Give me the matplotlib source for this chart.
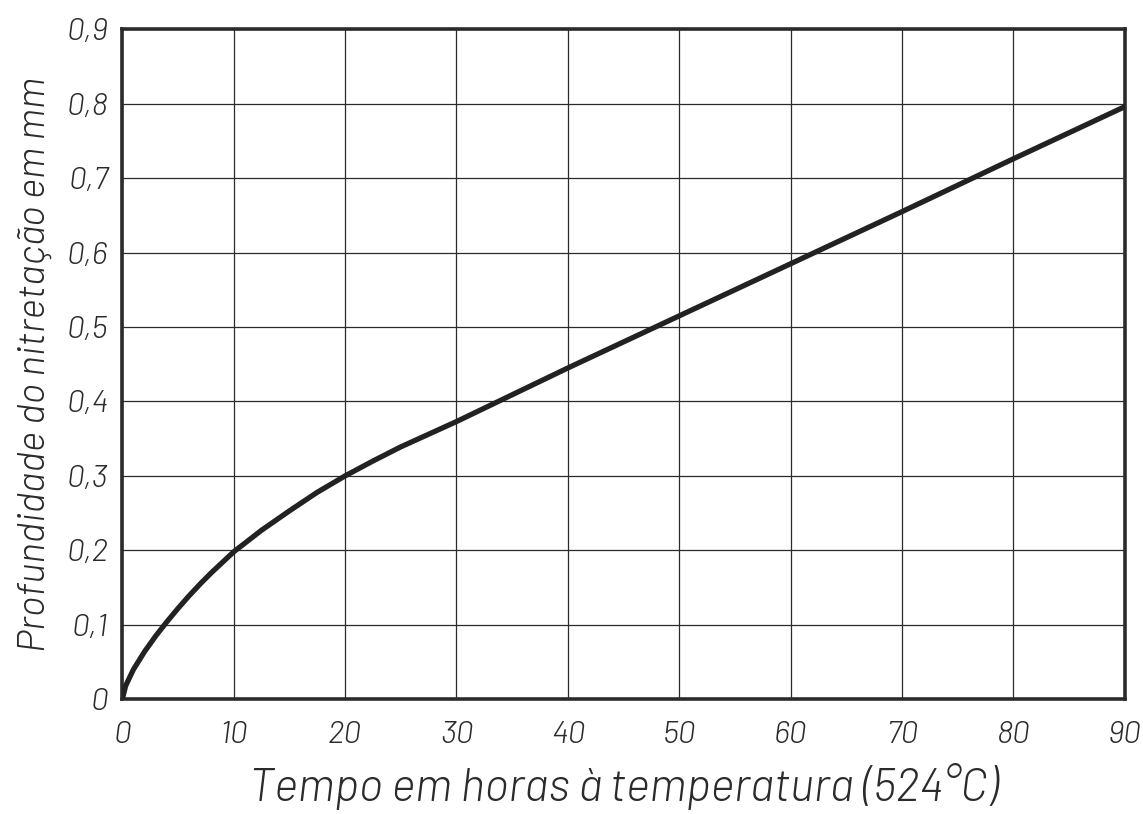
import matplotlib
matplotlib.use("Agg")
import matplotlib.pyplot as plt

# Data
tempo_h = [0, 0.3, 1, 2, 3, 4, 5, 6, 7, 8, 10, 12.5, 15, 17.5, 20, 22.5, 25, 27.5, 30,
           35, 40, 50, 60, 70, 80, 90]
profundidade_mm = [0, 0.018, 0.04, 0.064, 0.085, 0.104, 0.122, 0.139, 0.155, 0.17, 0.198,
                   0.227, 0.253, 0.278, 0.300, 0.320, 0.339, 0.356, 0.373,
                   0.409, 0.445, 0.515, 0.585, 0.655, 0.726, 0.796]
x_ticks = [0, 10, 20, 30, 40, 50, 60, 70, 80, 90]
y_ticks = [0, 0.1, 0.2, 0.3, 0.4, 0.5, 0.6, 0.7, 0.8, 0.9]
y_tick_labels = ["0", "0,1", "0,2", "0,3", "0,4", "0,5", "0,6", "0,7", "0,8", "0,9"]
x_label = "Tempo em horas à temperatura (524°C)"
y_label = "Profundidade do nitretação em mm"

fam = ["Barlow", "Barlow Semi Condensed", "DejaVu Sans"]

ink = "#2b2b2b"
fig = plt.figure(figsize=(11.43, 8.14), dpi=100)
ax = fig.add_axes([0.107, 0.141, 0.877, 0.823])
ax.set_xlim(0, 90)
ax.set_ylim(0, 0.9)
ax.set_xticks(x_ticks)
ax.set_yticks(y_ticks)
ax.set_xticklabels([str(v) for v in x_ticks])
ax.set_yticklabels(y_tick_labels)
ax.grid(True, color=ink, linewidth=0.9)
ax.tick_params(axis="y", length=0, pad=10, colors=ink, labelsize=23)
ax.tick_params(axis="x", length=0, pad=16, colors=ink, labelsize=23)
for lab in ax.get_xticklabels() + ax.get_yticklabels():
    lab.set_fontstyle("italic")
    lab.set_fontweight(300)
    lab.set_family(fam)
for sp in ax.spines.values():
    sp.set_linewidth(2.6)
    sp.set_color(ink)

ax.plot(tempo_h, profundidade_mm, color="#222222", linewidth=3.8,
        solid_capstyle="round", solid_joinstyle="round", zorder=3)

ax.set_xlabel(x_label, fontsize=33, fontstyle="italic", fontweight=300, family=fam,
              color=ink, labelpad=10)
ax.set_ylabel(y_label, fontsize=28, fontstyle="italic", fontweight=300, family=fam,
              color=ink, labelpad=10)

fig.savefig("out.png", dpi=100, facecolor="white")
